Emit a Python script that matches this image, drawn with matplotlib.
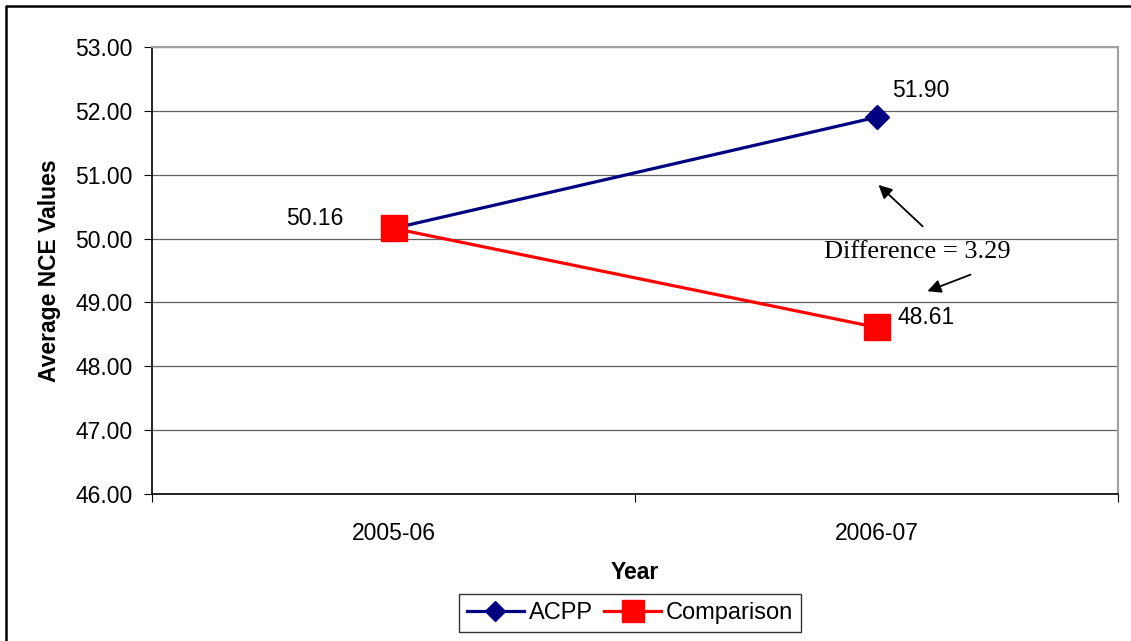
import numpy as np
import matplotlib.pyplot as plt
from matplotlib.lines import Line2D

# data
years = ['2005-06', '2006-07']
acpp = [50.16, 51.90]
comparison = [50.16, 48.61]
diff_text = 'Difference = 3.29'

plt.rcParams['font.family'] = ['Liberation Sans', 'DejaVu Sans']
FS = 16.5

W, H = 1131, 641
fig = plt.figure(figsize=(W / 100, H / 100), dpi=100)
ax = fig.add_axes([152 / W, 1 - 494 / H, (1118 - 152) / W, (494 - 47) / H])

x = np.arange(len(years))
ax.plot(x, acpp, color='#000080', lw=2.3, marker='D', ms=12, label='ACPP', zorder=3)
ax.plot(x, comparison, color='#ff0000', lw=2.3, marker='s', ms=19, label='Comparison', zorder=4)

ax.set_xlim(-0.5, 1.5)
ax.set_ylim(46, 53)
ax.set_yticks(np.arange(46, 54, 1))
ax.set_yticklabels(['%.2f' % v for v in np.arange(46, 54, 1)])
ax.set_xticks(x)
ax.set_xticklabels(years)
ax.set_xticks([-0.5, 0.5, 1.5], minor=True)
ax.tick_params(axis='x', which='major', length=0, pad=20, labelsize=FS)
ax.tick_params(axis='x', which='minor', length=6, width=0.8, direction='out')
ax.tick_params(axis='y', length=6, width=0.8, labelsize=FS, pad=8)
ax.grid(axis='y', color='#606060', lw=0.9)
ax.set_axisbelow(True)
# plot area border: light gray top/right, black axes left/bottom
ax.spines['top'].set_color('#a0a0a0')
ax.spines['right'].set_color('#a0a0a0')
ax.spines['top'].set_linewidth(1.5)
ax.spines['right'].set_linewidth(1.5)
ax.spines['left'].set_linewidth(1.2)
ax.spines['bottom'].set_linewidth(1.2)

ax.set_xlabel('Year', fontsize=FS, fontweight='bold', labelpad=12)
ax.set_ylabel('Average NCE Values', fontsize=FS, fontweight='bold', labelpad=10)

# value labels
ax.annotate('%.2f' % acpp[0], (x[0], acpp[0]), xytext=(-36, 7), textcoords='offset points',
            ha='right', va='center', fontsize=FS)
ax.annotate('%.2f' % acpp[1], (x[1], acpp[1]), xytext=(11, 19.5), textcoords='offset points',
            ha='left', va='center', fontsize=FS)
ax.annotate('%.2f' % comparison[1], (x[1], comparison[1]), xytext=(15, 7), textcoords='offset points',
            ha='left', va='center', fontsize=FS)

# difference annotation
ax.text(1.085, 49.79, diff_text, ha='center', va='center', fontsize=19, family='Liberation Serif')
ax.annotate('', xy=(1.0, 50.87), xytext=(1.1, 50.16),
            arrowprops=dict(arrowstyle='-|>', color='black', lw=1.3, mutation_scale=20))
ax.annotate('', xy=(1.1, 49.16), xytext=(1.2, 49.45),
            arrowprops=dict(arrowstyle='-|>', color='black', lw=1.3, mutation_scale=20))

leg = fig.legend(loc='center', bbox_to_anchor=(630 / W, 1 - 613 / H), ncol=2, frameon=True,
                 fancybox=False, edgecolor='black', fontsize=17, handlelength=2.4,
                 columnspacing=0.5, handletextpad=0.2, borderpad=0.35, markerscale=0.85)
leg.get_frame().set_linewidth(1.0)

# outer chart frame (only top and left edges are inside the image)
fig.add_artist(Line2D([6 / W, 6 / W, 1], [0, 1 - 6 / H, 1 - 6 / H],
                      transform=fig.transFigure, color='black', lw=1.8))

fig.savefig('out.png', dpi=100)
